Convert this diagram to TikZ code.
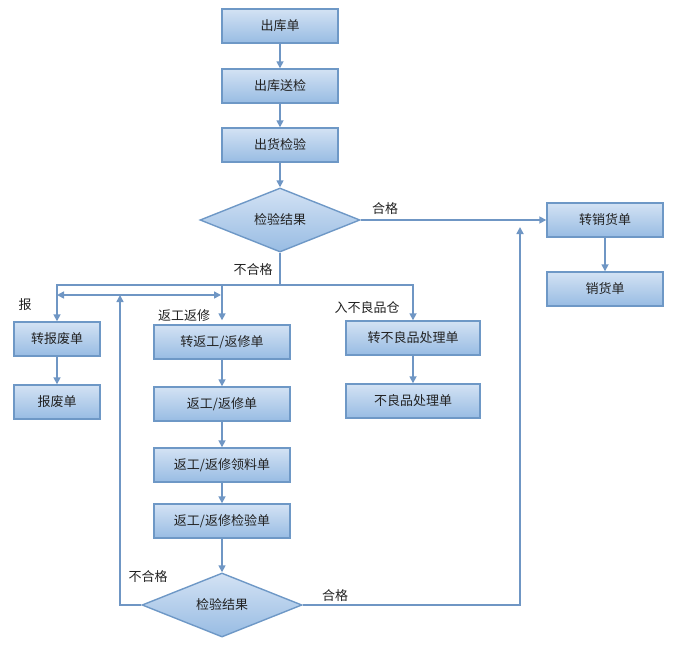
\documentclass[tikz,border=0pt]{standalone}
\usepackage{fontspec}
\setmainfont{Noto Sans CJK SC}
\usetikzlibrary{shapes.geometric,arrows.meta}
\definecolor{boxtop}{HTML}{D3E2F4}
\definecolor{boxbot}{HTML}{98BCE3}
\definecolor{boxline}{HTML}{6E98C6}
\definecolor{lnc}{HTML}{6F96C4}
\definecolor{txt}{HTML}{222222}
\begin{document}
\begin{tikzpicture}[x=1pt,y=-1pt,
  font=\fontsize{13}{15}\selectfont, text=txt,
  stepbox/.style={draw=boxline, line width=1.4pt, top color=boxtop, bottom color=boxbot, minimum height=34pt, inner sep=0pt, anchor=center},
  decide/.style={diamond, draw=boxline, line width=1.4pt, top color=boxtop, bottom color=boxbot, inner sep=0pt},
  conn/.style={draw=lnc, line width=1.6pt},
  arr/.style={conn, -{Triangle[width=7pt,length=7pt]}},
  lab/.style={inner sep=0pt}
]
\useasboundingbox (0,0) rectangle (687,653);
% main column
\node[stepbox, minimum width=116pt] (a1) at (280,26) {出库单};
\node[stepbox, minimum width=116pt] (a2) at (280,86) {出库送检};
\node[stepbox, minimum width=116pt] (a3) at (280,145) {出货检验};
\node[decide, minimum width=160pt, minimum height=60pt] (d1) at (280,220) {检验结果};
\node[stepbox, minimum width=116pt] (s1) at (605,220) {转销货单};
\node[stepbox, minimum width=116pt] (s2) at (605,289) {销货单};
% scrap branch
\node[stepbox, minimum width=86pt] (b1) at (57,339) {转报废单};
\node[stepbox, minimum width=86pt] (b2) at (57,402) {报废单};
% rework branch
\node[stepbox, minimum width=136pt] (r1) at (222,342) {转返工/返修单};
\node[stepbox, minimum width=136pt] (r2) at (222,404) {返工/返修单};
\node[stepbox, minimum width=136pt] (r3) at (222,465) {返工/返修领料单};
\node[stepbox, minimum width=136pt] (r4) at (222,521) {返工/返修检验单};
\node[decide, minimum width=160pt, minimum height=56pt] (d2) at (222,605) {检验结果};
% defect branch
\node[stepbox, minimum width=134pt] (n1) at (413,338) {转不良品处理单};
\node[stepbox, minimum width=134pt] (n2) at (413,401) {不良品处理单};
% coordinates
\coordinate (jc) at (280,285);
\coordinate (dl) at (57,295);
\coordinate (dr) at (221,295);
\coordinate (up) at (120,295);
\coordinate (bl) at (120,605);
\coordinate (br) at (520,605);
\coordinate (bt) at (520,227);
% connectors
\draw[arr] (a1) -- (a2);
\draw[arr] (a2) -- (a3);
\draw[arr] (a3) -- (d1);
\draw[arr] (d1.east) -- (s1.west);
\draw[arr] (s1) -- (s2);
\draw[conn] (d1.south) -- (jc);
\draw[arr] (jc) -| (b1.north);
\draw[arr] (jc) -| (n1.north);
\draw[arr] (r1.north |- jc) -- ([yshift=4pt]r1.north);
\draw[conn, {Triangle[width=7pt,length=7pt]}-{Triangle[width=7pt,length=7pt]}] (dl) -- (dr);
\draw[arr] (b1) -- (b2);
\draw[arr] (r1) -- (r2);
\draw[arr] (r2) -- (r3);
\draw[arr] (r3) -- (r4);
\draw[arr] (r4) -- (d2);
\draw[arr] (n1) -- (n2);
\draw[arr] (d2.west) -- (bl) -- (up);
\draw[arr] (d2.east) -- (br) -- (bt);
% labels
\node[lab] (l1) at (385,209) {合格};
\node[lab] (l2) at (253,270) {不合格};
\node[lab] (l3) at (25,305) {报};
\node[lab] (l4) at (184,316) {返工返修};
\node[lab] (l5) at (367,308) {入不良品仓};
\node[lab] (l6) at (148,577) {不合格};
\node[lab] (l7) at (335,596) {合格};
\end{tikzpicture}
\end{document}
